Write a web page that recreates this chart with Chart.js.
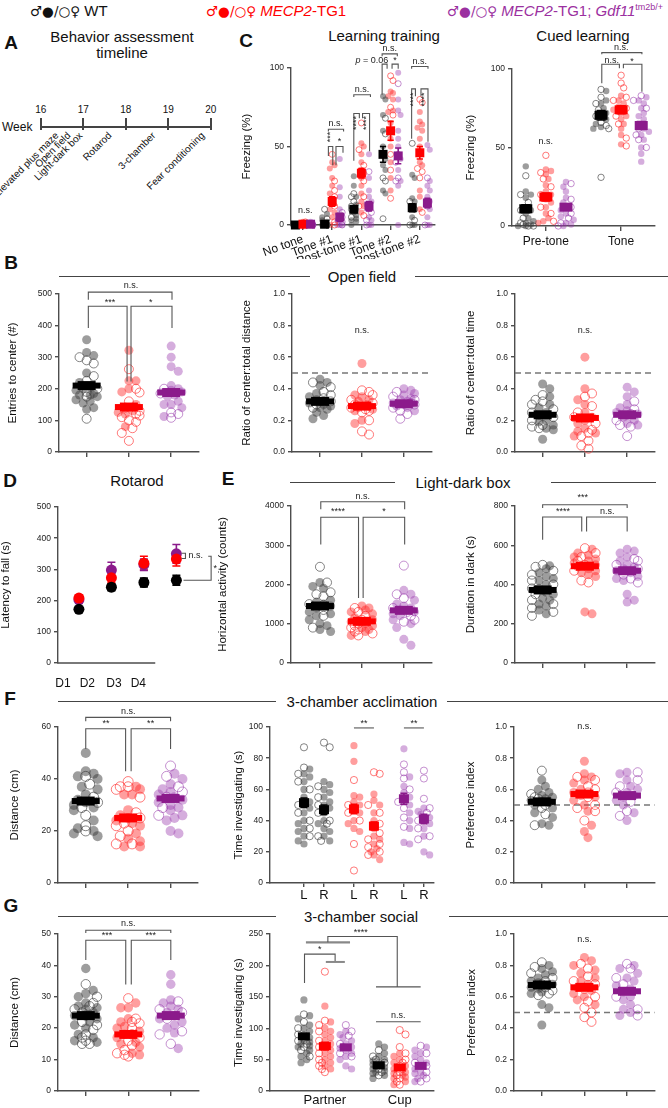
<!DOCTYPE html>
<html lang="en">
<head>
<meta charset="utf-8">
<title>Behavior assessment</title>
<script src="https://cdn.jsdelivr.net/npm/chart.js@4.4.1/dist/chart.umd.min.js"></script>
<style>
  body { margin:0; width:668px; height:1108px; position:relative; overflow:hidden; background:#fff;
         font-family:"Liberation Sans", Arial, "DejaVu Sans", sans-serif; color:#111; }
  canvas { position:absolute; }
  .t { position:absolute; white-space:nowrap; line-height:1; }
  .hl { position:absolute; height:0; border-top:1px solid #444; }
  .rot { position:absolute; width:200px; text-align:right; font-size:10px; line-height:12px;
         transform-origin:100% 50%; transform:rotate(-45deg); white-space:nowrap; }
  .sym { font-family:"DejaVu Sans", sans-serif; font-size:13.5px; }
  sup { font-size:60%; }
</style>
</head>
<body>
<script>
// ---------------- data ----------------
// group order everywhere: WT, MECP2-TG1, MECP2-TG1;Gdf11
const timelineWeeks = [16, 17, 18, 19, 20];
const timelineTests = ['Elevated plus maze', 'Open field', 'Light-dark box', 'Rotarod', '3-chamber', 'Fear conditioning'];
const timelineAt = [16.38, 16.66, 16.94, 17.63, 18.67, 19.82];

// C, learning training: [category][points]
const ltCats = ['No tone', 'Tone #1', 'Post-tone #1', 'Tone #2', 'Post-tone #2'];
const ltWtM = [[0,0,0,0,0,0,0,0],[0,0,0,2,3,5,7,0],[31,25,18,13,10,8,6,4,3,2,0],[82,80,70,60,50,42,38,35,22,20],[32,30,17,15,12,5,0,0]];
const ltWtF = [[0,0,0,0,0],[10,4,0,0,0],[20,18,15,12,10,5],[68,58,45,30,28,4],[52,15,10,3,0]];
const ltTgM = [[0,0,1,2,0,0],[40,38,36,30,25,20,15,10,8,5,0],[52,50,45,40,35,30,25,20,15,12,8],[85,84,82,80,73,72,65,60,55,50,40,30,22],[72,66,64,62,60,55,50,45,40,38,22,18,10]];
const ltTgF = [[2,1,0,0,0],[45,28,22,18,12,2,0],[65,48,38,33,28,18,12,6],[95,92,75,70,45,35,17],[80,78,36,34,30,8]];
const ltGdfM = [[0,0,1,2,0],[42,24,18,10,5,3,0,0,0],[45,30,22,18,15,13,10,5,3,0,0],[97,80,73,70,60,55,50,42,35,28,25,0],[51,48,28,25,22,18,15,10,5,0,0]];
const ltGdfF = [[0,1,0],[8,5,2,0],[34,8,3,0],[90,45,40,30,28],[30,12,0]];
const ltMean = [[0,0.5,0.5],[0.5,15,5],[10,33,12],[45,60,44],[11,46,14]];
const ltSem = [[0,0.4,0.4],[0.5,3,2.5],[2,3,3],[5,6,5],[2.5,4,3]];

// C, cued learning: [category][points]
const clCats = ['Pre-tone', 'Tone'];
const clWtM = [[38,22,20,18,12,10,8,5,3,2,1,0,0],[86,80,78,75,72,70,68,65,63,62]];
const clWtF = [[32,20,15,10,5,2,0,0,1],[87,82,78,74,70,66,64,62,31]];
const clTgM = [[36,35,33,30,26,22,20,17,15,12,8,5,3,2],[83,80,78,76,74,72,70,68,65,62,58,52]];
const clTgF = [[45,34,30,25,20,12,8,3],[96,91,88,82,80,75,70,65,56,51]];
const clGdfM = [[28,25,22,18,15,12,10,8,6,4,2,1,0],[82,80,78,75,72,70,68,65,62,60,58,55,50,46,41]];
const clGdfF = [[27,17,12,8,5,2,0],[83,80,75,62,58,55,50]];
const clMean = [[11,18.5,12],[70.5,74,64]];
const clSem = [[2.5,2.5,2],[3,2.5,2.5]];

// B, open field: [group][points]
const ofEntriesM = [[355,315,305,250,220,205,200,195,185,180,180,175,165,160,155,140,135],[322,225,225,200,190,150,130,125,120,80],[335,300,270,255,210,200,195,190,180,175,160,150,150,140,112]];
const ofEntriesF = [[300,290,280,240,225,200,190,175,105],[262,200,188,160,140,130,120,115,110,100,95,75,60,35],[200,185,125,120,108]];
const ofEntriesMean = [210, 142, 188], ofEntriesSem = [10, 10, 9];
const ofDistM = [[0.46,0.44,0.42,0.37,0.35,0.33,0.31,0.30,0.29,0.28,0.27,0.25,0.23,0.21],[0.56,0.36,0.35,0.33,0.32,0.30,0.29,0.28,0.27,0.26,0.20,0.18],[0.40,0.39,0.37,0.36,0.34,0.33,0.32,0.31,0.30,0.29,0.28,0.26]];
const ofDistF = [[0.44,0.41,0.38,0.36,0.34,0.32,0.30,0.28],[0.39,0.38,0.36,0.33,0.31,0.30,0.28,0.27,0.26,0.25,0.20,0.13,0.11],[0.38,0.35,0.33,0.31,0.30,0.28,0.26,0.24,0.21]];
const ofDistMean = [0.32, 0.29, 0.305], ofDistSem = [0.015, 0.018, 0.012];
const ofTimeM = [[0.43,0.40,0.35,0.30,0.28,0.25,0.23,0.20,0.19,0.17,0.15,0.14,0.08],[0.60,0.40,0.33,0.30,0.25,0.22,0.20,0.18,0.15,0.13,0.12,0.10],[0.41,0.38,0.35,0.30,0.28,0.26,0.25,0.24,0.22,0.20,0.18,0.17]];
const ofTimeF = [[0.36,0.33,0.32,0.30,0.27,0.25,0.22,0.20,0.17,0.16,0.15],[0.37,0.35,0.29,0.25,0.22,0.18,0.14,0.12,0.10,0.07,0.04,0.02],[0.32,0.27,0.24,0.20,0.17,0.16,0.10]];
const ofTimeMean = [0.235, 0.215, 0.235], ofTimeSem = [0.018, 0.024, 0.018];

// D, rotarod: [group][day]
const rrDays = ['D1', 'D2', 'D3', 'D4'];
const rrMean = [[172,243,258,265],[208,273,320,333],[203,298,315,350]];
const rrSem = [[8,11,14,16],[10,16,22,22],[12,25,18,30]];

// E, light-dark box
const ldActM = [[2050,1950,1900,1600,1550,1500,1450,1400,1300,1250,1200,1100,1000,950,850,800],[1450,1400,1350,1300,1250,1150,1100,1050,1000,950,900,850,800,700],[1850,1750,1600,1500,1450,1400,1350,1300,1250,1200,1100,1000,900,600,450]];
const ldActF = [[2450,2050,1800,1750,1700,1500,1350,1200,900],[1400,1300,1200,1100,1000,950,900,850,800,750,700],[2480,1750,1650,1400,1300,1200,1100,1050]];
const ldActMean = [1450, 1060, 1340], ldActSem = [70, 45, 80];
const ldDarkM = [[495,480,460,440,430,420,400,380,360,350,330,320,300,290,270,250],[580,560,550,540,530,520,510,500,490,480,470,460,450,440,260,250],[580,570,560,540,520,500,490,480,470,460,440,430,420,350,320,310]];
const ldDarkF = [[500,490,470,450,420,400,380,350,320,300,280,260,240],[585,560,540,520,500,470,420,410],[530,520,500,480,450,430,410]];
const ldDarkMean = [372, 493, 470], ldDarkSem = [12, 12, 12];

// F, 3-chamber acclimation
const acDistM = [[50,43,42,41,40,37,36,34,32,31,30,29,28,24,21,20,19,18],[37,36,34,34,28,26,25,24,23,22,19,17,16,14,14],[42,40,38,36,35,34,33,32,31,30,29,28,26,25,24,20,19]];
const acDistF = [[41,38,33,31,29,26,22,20],[39,37,37,36,33,27,25,23,22,20,18,15,15],[45,41,37,35,33,29,26]];
const acDistMean = [31.5, 25, 32.5], acDistSem = [1.3, 1.5, 1.3];
const acSides = ['L', 'R'];
const acTimeM = [[[73,70,68,65,60,55,52,50,48,45,40,38,35,33,30,27,25],[65,63,60,58,55,52,50,48,45,40,38,35,33,30,27]],[[88,78,56,55,52,50,48,45,40,38,35,33],[57,53,50,45,40,35,30,28,25,22,20,18,15]],[[86,68,62,58,55,52,50,45,40,35,26,25],[48,46,44,42,40,38,35,30,20,18]]];
const acTimeF = [[[87,74,70,65,60,50,45,40,35,30],[90,87,62,55,50,45,40,38,30,27]],[[66,50,45,40,25,8],[71,70,50,45,38,32,28,25,23,20,18]],[[76,71,67,60,52,48,42,36],[72,67,54,48,45,40,35,30,28]]];
const acTimeMean = [[51.5,47],[47.5,36.5],[54,41]], acTimeSem = [[3,3],[3,2.5],[3.5,3]];
const acPrefM = [[0.66,0.62,0.60,0.58,0.56,0.55,0.54,0.53,0.52,0.50,0.48,0.45,0.42,0.38,0.37],[0.78,0.70,0.68,0.66,0.64,0.60,0.58,0.56,0.55,0.53,0.50,0.46,0.37,0.33,0.29],[0.71,0.70,0.66,0.62,0.60,0.58,0.56,0.55,0.53,0.50,0.45,0.40]];
const acPrefF = [[0.72,0.57,0.55,0.54,0.52,0.50,0.48,0.44,0.37],[0.68,0.66,0.62,0.60,0.58,0.55,0.50,0.48,0.46,0.40],[0.71,0.66,0.62,0.58,0.52,0.46,0.43]];
const acPrefMean = [0.52, 0.57, 0.56], acPrefSem = [0.012, 0.016, 0.016];

// G, 3-chamber social
const soDistM = [[39,32,31,30,28,27,26.5,26,25,24,23,22,21,20,18,17,16,15.5],[28,26.5,26.5,23,22,20.5,20,19,18,17,15.5,15,14,12,11.5],[37,34,29,28,27,26,25,24,23,22,21,20,18.5,13.5]];
const soDistF = [[34,30,28,27,26,25,24,22,21,19.5,18,17,16,15,15],[29.5,23,22,21.5,20,18,17,16,14.5,13,12,11,11.5],[28.5,26,25,23,19,18,15]];
const soDistMean = [24, 18, 24], soDistSem = [0.8, 0.9, 1];
const soSides = ['Partner', 'Cup'];
const soTimeM = [[[145,120,115,105,100,95,90,85,80,78,75,72,70,65,60,55,50,45],[75,70,60,55,50,48,45,42,40,38,35,32,30,28,25,20]],[[135,110,100,95,90,85,80,75,70,65,60,55,50,45,40,35],[60,55,50,45,40,35,30,28,25,22,20,15,10]],[[95,90,85,80,75,70,68,65,60,55,50,40,35],[70,65,60,55,50,45,40,35,30,28,25,20,15]]];
const soTimeF = [[[122,110,100,90,80,75,70,65,55],[65,55,50,45,40,35,30,25]],[[190,112,105,95,80,70,60,50,45,40,35,30],[97,90,70,60,50,45,40,35,30,25,20,15,10]],[[105,95,88,75,70,60,55],[72,60,45,40,30,20,15]]];
const soTimeMean = [[87,41],[71.5,37.5],[69.5,40]], soTimeSem = [[4,2.5],[6,4],[3.5,3.5]];
const soPrefM = [[0.80,0.78,0.76,0.74,0.72,0.70,0.69,0.68,0.66,0.65,0.63,0.62,0.55,0.53,0.42],[0.85,0.83,0.80,0.77,0.75,0.72,0.70,0.68,0.66,0.64,0.62,0.60,0.58,0.55],[0.80,0.78,0.75,0.72,0.70,0.67,0.65,0.63,0.60,0.58,0.55,0.52,0.50,0.48]];
const soPrefF = [[0.82,0.79,0.75,0.72,0.70,0.68,0.66,0.64,0.62,0.61],[0.81,0.78,0.73,0.70,0.68,0.65,0.60,0.57,0.53,0.50,0.47,0.44],[0.81,0.78,0.72,0.68,0.60,0.52,0.48]];
const soPrefMean = [0.675, 0.66, 0.635], soPrefSem = [0.015, 0.015, 0.015];

// ---------------- look ----------------
const AXC = '#4d4d4d';
const COL_PT = ['rgba(60,60,60,0.5)', 'rgba(255,40,40,0.45)', 'rgba(150,50,170,0.4)'];
const COL_OPEN = ['rgba(80,80,80,0.7)', 'rgba(255,50,50,0.65)', 'rgba(150,55,170,0.55)'];
const COL_MEAN = ['#000000', '#ff0000', '#8b1a8b'];
Chart.defaults.font.family = '"Liberation Sans", Arial, sans-serif';

// ---------------- html text helpers ----------------
function text(s, x, y, o = {}) {
  const d = document.createElement('div');
  d.className = 't';
  d.innerHTML = s;
  d.style.left = x + 'px';
  d.style.top = y + 'px';
  d.style.fontSize = (o.size || 15) + 'px';
  if (o.bold) d.style.fontWeight = 'bold';
  if (o.color) d.style.color = o.color;
  d.style.transform = o.left ? 'translate(0,-50%)' : 'translate(-50%,-50%)';
  document.body.appendChild(d);
}
function hline(x1, x2, y, w) {
  const d = document.createElement('div');
  d.className = 'hl';
  d.style.left = x1 + 'px';
  d.style.top = y + 'px';
  d.style.width = (x2 - x1) + 'px';
  if (w) d.style.borderTopWidth = w + 'px';
  document.body.appendChild(d);
}
function section(name, y, l1, l2, cx) {
  hline(l1[0], l1[1], y);
  hline(l2[0], l2[1], y);
  text(name, cx, y);
}

// header legend
const SYM = '<span class="sym">♂●/○♀</span> ';
text(SYM + 'WT', 30, 11, { left: 1, size: 15 });
text(SYM + '<i>MECP2</i>-TG1', 206, 11, { left: 1, size: 15, color: '#ff0000' });
text(SYM + '<i>MECP2</i>-TG1; <i>Gdf11</i><sup>tm2b/+</sup>', 447, 11, { left: 1, size: 15, color: '#9b30a0' });

// panel letters and titles
[['A', 11, 42], ['B', 11, 262], ['C', 246, 40], ['D', 10, 480], ['E', 228, 478], ['F', 10, 698], ['G', 11, 905]]
  .forEach(([s, x, y]) => text(s, x, y, { bold: 1, size: 19 }));
text('Behavior assessment', 122, 36);
text('timeline', 122, 52);
text('Learning training', 384, 35);
text('Cued learning', 583, 35);
text('Rotarod', 137, 480);
section('Open field', 276, [58.7, 310], [415, 668], 362);
section('Light-dark box', 482, [290, 395], [551, 656], 463);
section('3-chamber acclimation', 701, [58, 276], [447, 668], 362);
section('3-chamber social', 916, [58, 276], [449, 668], 361);

// panel A timeline
const wk = w => 40.7 + (w - 16) * 42.5;
hline(wk(16), wk(20), 125.5, 2);
text('Week', 2, 127, { left: 1, size: 12 });
timelineWeeks.forEach(w => {
  const d = document.createElement('div');
  d.style.cssText = `position:absolute;left:${wk(w) - 1}px;top:118px;width:2px;height:12px;background:#444`;
  document.body.appendChild(d);
  text(String(w), wk(w), 110, { size: 10 });
});
timelineTests.forEach((s, i) => {
  const d = document.createElement('div');
  d.className = 'rot';
  d.textContent = s;
  d.style.left = (wk(timelineAt[i]) - 200) + 'px';
  d.style.top = (134 - 6) + 'px';
  document.body.appendChild(d);
});

// ---------------- chart helpers ----------------
function swarm(s, spread, r, xpx, ypx) {
  const pts = s.filled.map(v => ({ v, open: false })).concat(s.open.map(v => ({ v, open: true })));
  const order = pts.map((p, i) => i).sort((a, b) => pts[b].v - pts[a].v || a - b);
  const step = (r * 0.8) / xpx;
  const kmax = Math.max(1, Math.floor(spread / step));
  const placed = [];
  for (const i of order) {
    const yv = pts[i].v;
    let best = 0, bestD = -1;
    for (let k = 0; k <= 2 * kmax; k++) {
      const off = (k % 2 ? 1 : -1) * Math.ceil(k / 2) * step;
      let dmin = 1e9;
      for (const p of placed) {
        const d = Math.hypot((p.x - s.x - off) * xpx, (p.y - yv) * ypx);
        if (d < dmin) dmin = d;
      }
      if (dmin >= r * 1.6) { best = off; break; }
      if (dmin > bestD) { bestD = dmin; best = off; }
    }
    pts[i].x = s.x + best;
    pts[i].y = yv;
    placed.push(pts[i]);
  }
  return pts;
}

function makeCanvas(g) {
  const cv = document.createElement('canvas');
  cv.width = Math.round(g.right - g.left + g.yw + g.pr);
  cv.height = Math.round(g.bottom - g.top + g.pt + g.xh);
  cv.style.left = Math.round(g.left - g.yw) + 'px';
  cv.style.top = Math.round(g.top - g.pt) + 'px';
  document.body.appendChild(cv);
  return cv;
}

function scalesFor(g) {
  return {
    x: {
      type: 'linear', bounds: 'data',
      afterDataLimits: s => { s.min = g.xmin; s.max = g.xmax; },
      afterBuildTicks: s => { s.ticks = g.ticksX.map(v => ({ value: v })); },
      afterFit: s => { s.height = g.xh; },
      border: { display: !g.noXBorder, color: AXC, width: 1.4 },
      grid: { drawOnChartArea: false, drawTicks: g.xtl !== 0, tickLength: g.xtl ?? 5, color: AXC, lineWidth: 1.4 },
      ticks: { autoSkip: false, maxRotation: g.rot || 0, minRotation: g.rot || 0, padding: g.xpad ?? 2,
               color: '#111', font: { size: g.xfont || 12 }, callback: (v, i) => g.labelsX ? g.labelsX[i] : '' }
    },
    y: {
      min: g.ymin, max: g.ymax,
      afterFit: s => { s.width = g.yw; },
      border: { color: AXC, width: 1.4 },
      grid: { drawOnChartArea: false, tickLength: 4, color: AXC, lineWidth: 1.4 },
      ticks: { stepSize: g.step, padding: 3, color: '#222', font: { size: 8.5 },
               callback: v => g.fmt ? v.toFixed(g.fmt) : v },
      title: { display: true, text: g.yTitle, padding: 0, color: '#111', font: { size: 11.5 } }
    }
  };
}

function drawNotes(ctx, X, Y, notes) {
  for (const n of notes || []) {
    if (n.p) {
      ctx.beginPath();
      ctx.strokeStyle = n.c || '#555';
      ctx.lineWidth = n.w || 1.1;
      n.p.forEach(([x, y], i) => {
        const px = X.getPixelForValue(x), py = Y.getPixelForValue(y);
        if (i) ctx.lineTo(px, py); else ctx.moveTo(px, py);
      });
      ctx.stroke();
    } else {
      ctx.save();
      ctx.translate(X.getPixelForValue(n.x), Y.getPixelForValue(n.y));
      if (n.rot) ctx.rotate(-Math.PI / 2);
      ctx.font = (n.size || 9) + 'px "Liberation Sans", Arial';
      ctx.fillStyle = '#222';
      ctx.textAlign = 'center';
      ctx.textBaseline = 'middle';
      if (n.t.startsWith('p =')) {
        const rest = n.t.slice(1);
        const w1 = ctx.measureText('p').width, w2 = ctx.measureText(rest).width;
        ctx.textAlign = 'left';
        ctx.font = 'italic ' + ctx.font;
        ctx.fillText('p', -(w1 + w2) / 2, 0);
        ctx.font = (n.size || 9) + 'px "Liberation Sans", Arial';
        ctx.fillText(rest, -(w1 + w2) / 2 + w1, 0);
      } else {
        ctx.fillText(n.t, 0, 0);
      }
      ctx.restore();
    }
  }
}

function drawMean(ctx, X, Y, s, g) {
  const px = X.getPixelForValue(s.x), py = Y.getPixelForValue(s.mean);
  const hi = Y.getPixelForValue(s.mean + s.sem), lo = Y.getPixelForValue(s.mean - s.sem);
  ctx.fillStyle = ctx.strokeStyle = COL_MEAN[s.g];
  if (g.style === 'bar') {
    ctx.fillRect(px - 14, py - 3, 28, 6);
    const h = Math.max(lo - hi, 9);
    ctx.fillRect(px - 9, py - h / 2, 18, h);
  } else {
    const cw = g.sw * 0.35;
    ctx.lineWidth = 1.6;
    ctx.beginPath();
    ctx.moveTo(px, hi); ctx.lineTo(px, lo);
    ctx.moveTo(px - cw, hi); ctx.lineTo(px + cw, hi);
    ctx.moveTo(px - cw, lo); ctx.lineTo(px + cw, lo);
    ctx.stroke();
    ctx.fillRect(px - g.sw / 2, py - g.sh / 2, g.sw, g.sh);
  }
}

function overlay(g) {
  return {
    id: 'overlay',
    beforeDatasetsDraw(chart) {
      if (g.dash == null) return;
      const { ctx, chartArea: a } = chart;
      const y = chart.scales.y.getPixelForValue(g.dash);
      ctx.save();
      ctx.strokeStyle = '#777';
      ctx.lineWidth = 1.4;
      ctx.setLineDash([6, 4]);
      ctx.beginPath(); ctx.moveTo(a.left, y); ctx.lineTo(a.right, y); ctx.stroke();
      ctx.restore();
    },
    afterDatasetsDraw(chart) {
      const { ctx } = chart, X = chart.scales.x, Y = chart.scales.y;
      ctx.save();
      g.series.forEach(s => drawMean(ctx, X, Y, s, g));
      drawNotes(ctx, X, Y, g.notes);
      ctx.restore();
    }
  };
}

function dotChart(g) {
  const cv = makeCanvas(g);
  const xpx = (g.right - g.left) / (g.xmax - g.xmin);
  const ypx = (g.bottom - g.top) / (g.ymax - g.ymin);
  const datasets = [];
  for (const s of g.series) {
    const pts = swarm(s, g.spread, g.r, xpx, ypx);
    [false, true].forEach(open => datasets.push({
      data: pts.filter(p => p.open === open).map(p => ({ x: p.x, y: p.y })),
      pointRadius: g.r, pointHoverRadius: g.r,
      backgroundColor: open ? 'rgba(255,255,255,0)' : COL_PT[s.g],
      borderColor: open ? COL_OPEN[s.g] : COL_PT[s.g],
      borderWidth: open ? 1 : 0,
      showLine: false, clip: false
    }));
  }
  new Chart(cv, {
    type: 'scatter',
    data: { datasets },
    options: {
      responsive: false, animation: false, events: [],
      layout: { padding: { top: g.pt, right: g.pr, left: 0, bottom: 0 } },
      plugins: { legend: { display: false }, tooltip: { enabled: false } },
      scales: scalesFor(g)
    },
    plugins: [overlay(g)]
  });
}

const br = (x1, x2, y, b1, b2) => ({ p: [[x1, b1], [x1, y], [x2, y], [x2, b2]] });
const tx = (x, y, t, rot) => ({ x, y, t, rot });
const three = (M, F, mean, sem) => [0, 1, 2].map(g => ({ x: g, g, filled: M[g], open: F[g], mean: mean[g], sem: sem[g] }));
const base3 = { ticksX: [0, 1, 2], xmin: -0.654, xmax: 2.647, r: 4.5, spread: 0.33, style: 'bar', xh: 8, pr: 4, pt: 22 };

// ---------------- C ----------------
const ltM = [ltWtM, ltTgM, ltGdfM], ltF = [ltWtF, ltTgF, ltGdfF];
dotChart({
  left: 290.7, right: 435, top: 68.3, bottom: 225.7, yw: 51, xh: 34, pt: 44, pr: 4,
  xmin: -0.41, xmax: 4.52, ymin: 0, ymax: 100, step: 50, yTitle: 'Freezing (%)',
  ticksX: [0, 1, 2, 3, 4], labelsX: ltCats, rot: 20, r: 3, spread: 0.15, style: 'square', sw: 9, sh: 9,
  series: ltCats.flatMap((c, ci) => [0, 1, 2].map(g => ({ x: ci + (g - 1) * 0.26, g, filled: ltM[g][ci], open: ltF[g][ci], mean: ltMean[ci][g], sem: ltSem[ci][g] }))),
  notes: [
    tx(0.08, 9, 'n.s.'),
    br(0.87, 1.39, 61, 59.5, 59.5), tx(1.12, 64.5, 'n.s.'),
    br(0.87, 1.02, 50, 44, 38), tx(0.94, 56, '***', 1),
    br(1.13, 1.37, 50, 38, 46), tx(1.25, 53, '*'),
    br(1.74, 2.31, 83, 81.5, 81.5), tx(2.02, 86.5, 'n.s.'),
    br(1.74, 1.93, 71, 41, 68), tx(1.83, 65, '****', 1),
    br(2.04, 2.28, 71, 68, 47), tx(2.16, 65, '****', 1),
    br(2.71, 3.23, 109, 107.5, 107.5), tx(2.97, 112.5, 'n.s.'),
    br(2.71, 2.88, 102.5, 83, 99.5), tx(2.36, 105, 'p = 0.06'),
    br(3.05, 3.26, 102.5, 99.5, 99.5), tx(3.15, 104.5, '*'),
    br(3.72, 4.28, 101, 99.5, 99.5), tx(4.0, 104, 'n.s.'),
    br(3.72, 3.85, 86.7, 55, 82), tx(3.79, 80, '****', 1),
    br(4.04, 4.28, 86.7, 82, 53), tx(4.16, 80, '****', 1)
  ]
});
const clM = [clWtM, clTgM, clGdfM], clF = [clWtF, clTgF, clGdfF];
dotChart({
  left: 512.3, right: 655, top: 69, bottom: 225.7, yw: 48, xh: 26, pt: 30, pr: 6,
  xmin: -0.45, xmax: 1.45, ymin: 0, ymax: 100, step: 50, yTitle: 'Freezing (%)',
  ticksX: [0, 1], labelsX: clCats, xpad: 3, r: 3.2, spread: 0.11, style: 'square', sw: 13, sh: 9,
  series: clCats.flatMap((c, ci) => [0, 1, 2].map(g => ({ x: ci + (g - 1) * 0.267, g, filled: clM[g][ci], open: clF[g][ci], mean: clMean[ci][g], sem: clSem[ci][g] }))),
  notes: [
    tx(0, 54, 'n.s.'),
    br(0.743, 1.276, 110.4, 109.4, 109.4), tx(1.0, 113.4, 'n.s.'),
    br(0.743, 0.977, 103, 90.9, 100.4), tx(0.876, 105.6, 'n.s.'),
    br(1.03, 1.276, 103, 100.4, 85.5), tx(1.143, 104.8, '*')
  ]
});

// ---------------- B ----------------
dotChart(Object.assign({}, base3, {
  left: 58.7, right: 200, top: 294.3, bottom: 452, yw: 53, ymin: 0, ymax: 500, step: 100,
  yTitle: 'Entries to center (#)',
  series: three(ofEntriesM, ofEntriesF, ofEntriesMean, ofEntriesSem),
  notes: [br(0.04, 2.02, 506, 482, 482), tx(1.05, 527, 'n.s.'),
          br(0.04, 0.957, 461, 392, 223), tx(0.55, 474, '***'),
          br(1.05, 2.02, 461, 223, 392), tx(1.52, 474, '*')]
}));
dotChart(Object.assign({}, base3, {
  left: 291.7, right: 433, top: 293.7, bottom: 452, yw: 52, xmin: -0.67, xmax: 2.66,
  ymin: 0, ymax: 1, step: 0.2, fmt: 1, dash: 0.5, yTitle: 'Ratio of center:total distance',
  series: three(ofDistM, ofDistF, ofDistMean, ofDistSem), notes: [tx(1, 0.77, 'n.s.')]
}));
dotChart(Object.assign({}, base3, {
  left: 515, right: 656, top: 293.7, bottom: 452, yw: 51,
  ymin: 0, ymax: 1, step: 0.2, fmt: 1, dash: 0.5, yTitle: 'Ratio of center:total time',
  series: three(ofTimeM, ofTimeF, ofTimeMean, ofTimeSem), notes: [tx(1, 0.77, 'n.s.')]
}));

// ---------------- D ----------------
(function rotarod() {
  // plot area runs on past the drawn axis line so the D4 marks and brackets stay inside it
  const axisEnd = 3.35;
  const g = { left: 58.3, right: 226, top: 506.7, bottom: 662.7, yw: 59, pt: 10, pr: 2, xh: 28,
              xmin: 0.356, xmax: 5.42, ymin: 0, ymax: 500, step: 100, yTitle: 'Latency to fall (s)',
              ticksX: [0.51, 1.26, 2.08, 2.83], labelsX: rrDays, xtl: 0, xpad: 13, noXBorder: 1 };
  const cv = makeCanvas(g);
  const notes = [
    { p: [[4.16, 352], [4.28, 352], [4.28, 335], [4.16, 335]] }, tx(4.6, 344, 'n.s.'),
    { p: [[4.22, 265], [5.07, 265], [5.07, 342], [4.98, 342]] }, tx(5.2, 303, '*')
  ];
  new Chart(cv, {
    type: 'scatter',
    data: { datasets: rrMean.map((m, gi) => ({
      data: m.map((v, d) => ({ x: d + 1, y: v })),
      pointRadius: 5.5, pointHoverRadius: 5.5, backgroundColor: COL_MEAN[gi], borderWidth: 0
    })) },
    options: {
      responsive: false, animation: false, events: [],
      layout: { padding: { top: g.pt, right: g.pr, left: 0, bottom: 0 } },
      plugins: { legend: { display: false }, tooltip: { enabled: false } },
      scales: scalesFor(g)
    },
    plugins: [{
      id: 'errbars',
      beforeDatasetsDraw(chart) {
        const { ctx, chartArea: a } = chart, X = chart.scales.x, Y = chart.scales.y;
        ctx.save();
        ctx.strokeStyle = AXC;
        ctx.lineWidth = 1.4;
        ctx.beginPath(); ctx.moveTo(a.left - 0.7, a.bottom); ctx.lineTo(X.getPixelForValue(axisEnd), a.bottom); ctx.stroke();
        ctx.lineWidth = 1.6;
        rrMean.forEach((m, gi) => m.forEach((v, d) => {
          const px = X.getPixelForValue(d + 1);
          const hi = Y.getPixelForValue(v + rrSem[gi][d]), lo = Y.getPixelForValue(v - rrSem[gi][d]);
          ctx.strokeStyle = COL_MEAN[gi];
          ctx.beginPath();
          ctx.moveTo(px, hi); ctx.lineTo(px, lo);
          ctx.moveTo(px - 4, hi); ctx.lineTo(px + 4, hi);
          ctx.moveTo(px - 4, lo); ctx.lineTo(px + 4, lo);
          ctx.stroke();
        }));
        ctx.restore();
      },
      afterDatasetsDraw(chart) {
        chart.ctx.save();
        drawNotes(chart.ctx, chart.scales.x, chart.scales.y, notes);
        chart.ctx.restore();
      }
    }]
  });
})();

// ---------------- E ----------------
dotChart(Object.assign({}, base3, {
  left: 290.7, right: 433, top: 506, bottom: 663.3, yw: 75, xmin: -0.69, xmax: 2.66,
  ymin: 0, ymax: 4000, step: 1000, yTitle: 'Horizontal activity (counts)',
  series: three(ldActM, ldActF, ldActMean, ldActSem),
  notes: [br(0.02, 2.02, 4109, 3915, 3915), tx(1.02, 4236, 'n.s.'),
          br(0.02, 0.92, 3712, 3020, 1653), tx(0.43, 3855, '****'),
          br(1.03, 2.02, 3712, 1653, 3020), tx(1.53, 3855, '*')]
}));
dotChart(Object.assign({}, base3, {
  left: 515, right: 656, top: 506.3, bottom: 663, yw: 51,
  ymin: 0, ymax: 800, step: 200, yTitle: 'Duration in dark (s)',
  series: three(ldDarkM, ldDarkF, ldDarkMean, ldDarkSem),
  notes: [br(0, 2, 806, 790, 790), tx(0.95, 841, '***'),
          br(0, 0.925, 744, 628, 670), tx(0.48, 772, '****'),
          br(1.04, 2.0, 744, 670, 670), tx(1.53, 772, 'n.s.')]
}));

// ---------------- F ----------------
dotChart(Object.assign({}, base3, {
  left: 58.3, right: 200, top: 727.3, bottom: 883.3, yw: 50, pt: 20, r: 5,
  ymin: 0, ymax: 60, step: 20, yTitle: 'Distance (cm)',
  series: three(acDistM, acDistF, acDistMean, acDistSem),
  notes: [br(0, 2, 63.7, 62.2, 62.2), tx(1, 65.8, 'n.s.'),
          br(0, 0.94, 59.3, 51.5, 43), tx(0.48, 61.5, '**'),
          br(1.07, 2, 59.3, 43, 51.5), tx(1.53, 61.5, '**')]
}));
dotChart({
  left: 270, right: 433.7, top: 727.3, bottom: 883.3, yw: 38, xh: 24, pt: 10, pr: 4,
  xmin: -0.88, xmax: 2.39, ymin: 0, ymax: 100, step: 20, yTitle: 'Time investigating (s)',
  ticksX: [-0.2, 0.2, 0.8, 1.2, 1.8, 2.2], labelsX: ['L', 'R', 'L', 'R', 'L', 'R'], xtl: 4, xpad: 1, xfont: 13,
  r: 3.6, spread: 0.13, style: 'square', sw: 10, sh: 9,
  series: [0, 1, 2].flatMap(g => [0, 1].map(s => ({ x: g + (s ? 0.2 : -0.2), g, filled: acTimeM[g][s], open: acTimeF[g][s], mean: acTimeMean[g][s], sem: acTimeSem[g][s] }))),
  notes: [{ p: [[0.8, 99.4], [1.2, 99.4]] }, tx(1.0, 102.5, '**'),
          { p: [[1.8, 99.4], [2.2, 99.4]] }, tx(2.0, 102.5, '**')]
});
dotChart(Object.assign({}, base3, {
  left: 514, right: 656, top: 727.3, bottom: 883.3, yw: 50, pt: 12,
  ymin: 0, ymax: 1, step: 0.2, fmt: 1, dash: 0.5, yTitle: 'Preference index',
  series: three(acPrefM, acPrefF, acPrefMean, acPrefSem), notes: [tx(1, 1.0, 'n.s.')]
}));

// ---------------- G ----------------
dotChart(Object.assign({}, base3, {
  left: 58.3, right: 200, top: 934.3, bottom: 1091.7, yw: 50, pt: 14, r: 4.7,
  ymin: 0, ymax: 50, step: 10, yTitle: 'Distance (cm)',
  series: three(soDistM, soDistF, soDistMean, soDistSem),
  notes: [br(0, 2, 51.2, 50.3, 50.3), tx(1, 53.3, 'n.s.'),
          br(0, 0.94, 48, 41.7, 33.9), tx(0.5, 49.5, '***'),
          br(1.07, 2, 48, 33.9, 41.7), tx(1.53, 49.5, '***')]
}));
dotChart({
  left: 270, right: 433.7, top: 934.3, bottom: 1091.7, yw: 38, xh: 18, pt: 10, pr: 4,
  xmin: -0.733, xmax: 1.45, ymin: 0, ymax: 250, step: 50, yTitle: 'Time investigating (s)',
  ticksX: [0, 1], labelsX: soSides, xtl: 0, xpad: 2, xfont: 13,
  r: 3.6, spread: 0.11, style: 'square', sw: 12, sh: 8,
  series: [0, 1].flatMap(s => [0, 1, 2].map(g => ({ x: s + (g - 1) * 0.28, g, filled: soTimeM[g][s], open: soTimeF[g][s], mean: soTimeMean[g][s], sem: soTimeSem[g][s] }))),
  notes: [{ p: [[-0.253, 236.7], [0.336, 236.7]], w: 2.4, c: '#888' },
          { p: [[0.04, 236.7], [0.04, 246], [0.967, 246], [0.967, 165.8]] },
          { p: [[0.683, 165.8], [1.28, 165.8]] }, tx(0.48, 252, '****'),
          { p: [[-0.272, 172], [-0.272, 218], [0.137, 218], [0.137, 206]] },
          { p: [[0.013, 205.5], [0.267, 205.5]], w: 2, c: '#888' }, tx(-0.07, 225, '*'),
          { p: [[0.683, 110.2], [1.28, 110.2]] }, tx(0.98, 120, 'n.s.')]
});
dotChart(Object.assign({}, base3, {
  left: 514, right: 656, top: 934.3, bottom: 1091.7, yw: 49, pt: 14,
  ymin: 0, ymax: 1, step: 0.2, fmt: 1, dash: 0.5, yTitle: 'Preference index',
  series: three(soPrefM, soPrefF, soPrefMean, soPrefSem), notes: [tx(1, 0.965, 'n.s.')]
}));
</script>
</body>
</html>
